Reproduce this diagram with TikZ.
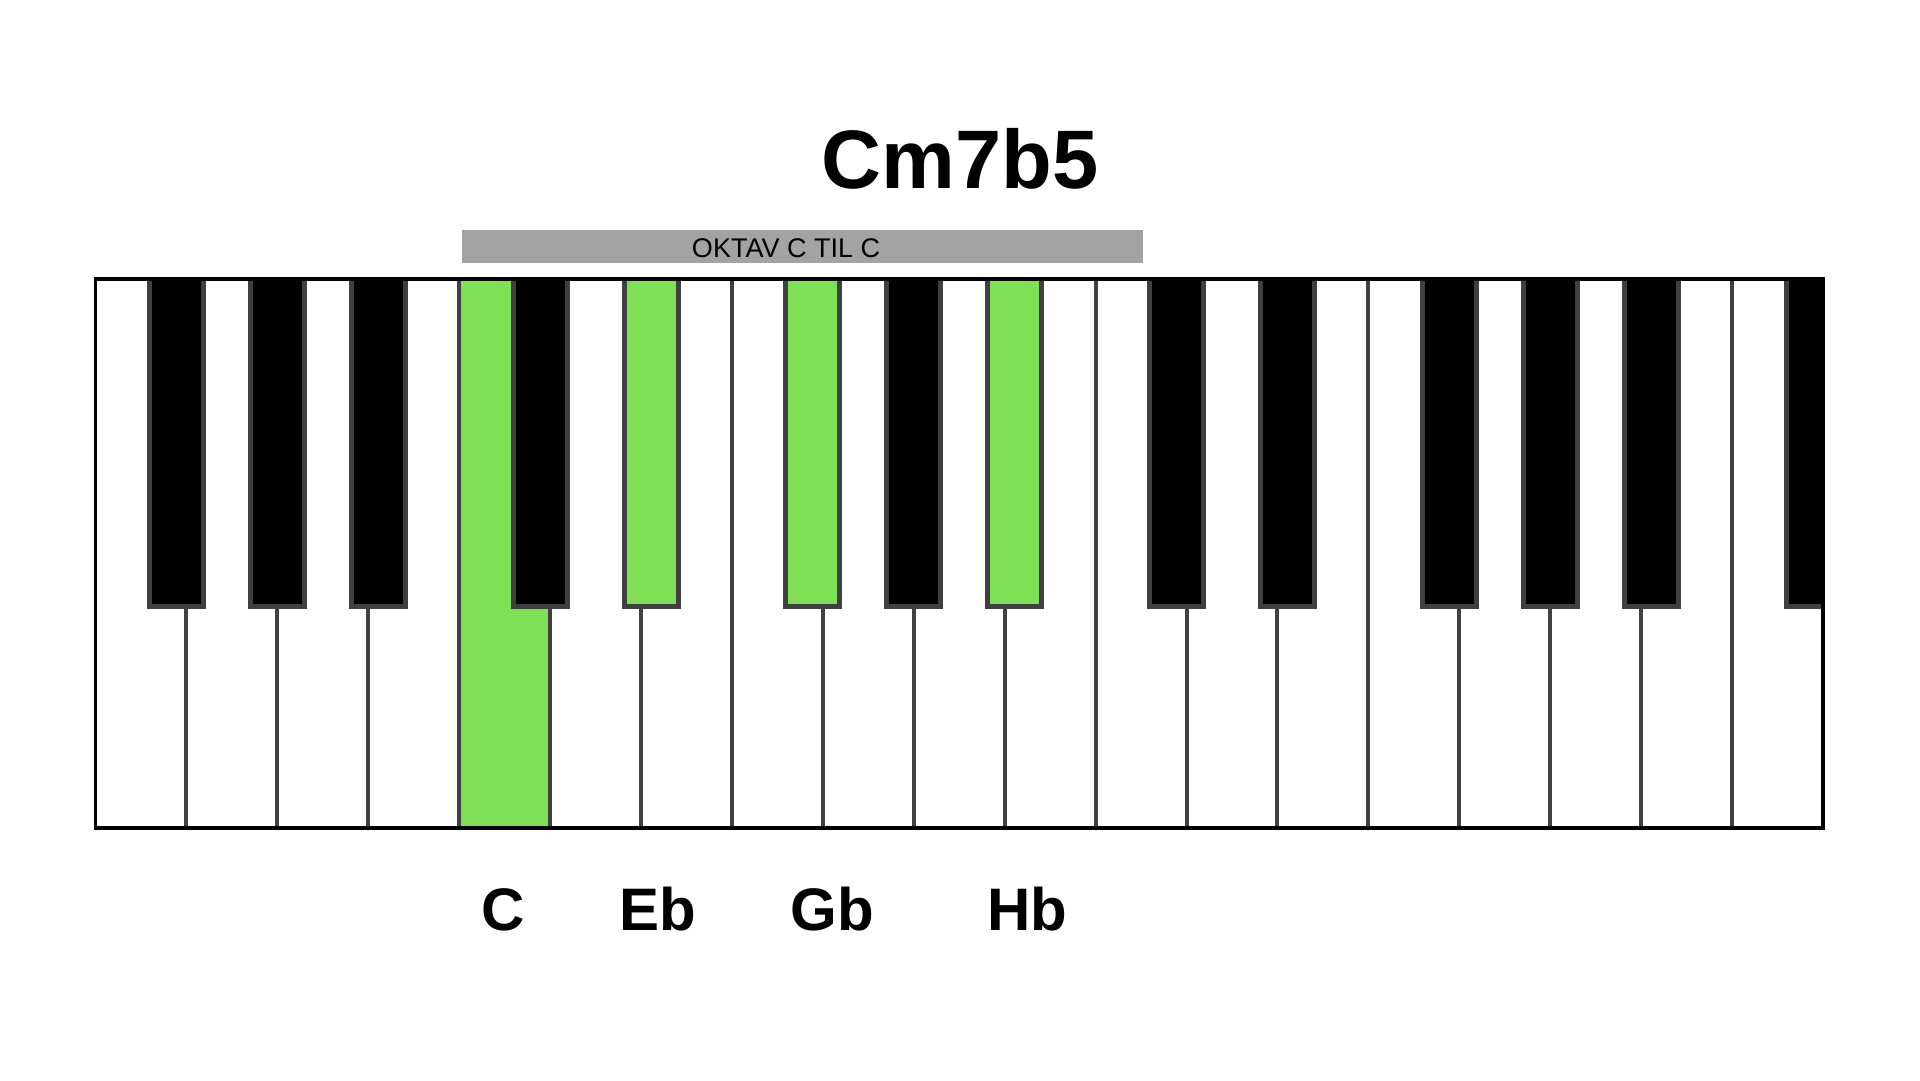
\documentclass[tikz,border=0pt]{standalone}
\usepackage{fontspec}
\setmainfont{Liberation Sans}
\definecolor{keygreen}{HTML}{7EE155}
\definecolor{keyedge}{HTML}{404040}
\definecolor{bargray}{HTML}{A3A3A3}
\def\keyleft{95.5}
\def\keyright{1823}
\def\keyw{90.92}
\def\keytop{279}
\def\keybot{828}
\def\blackbot{606.5}
\tikzset{
  blackkey/.style={fill=black, draw=keyedge, line width=5pt},
  greenkey/.style={fill=keygreen, draw=keyedge, line width=5pt},
  divider/.style={draw=keyedge, line width=4pt},
  notename/.style={font=\fontsize{60}{60}\selectfont\bfseries, anchor=base},
}

\begin{document}
\begin{tikzpicture}[x=1pt,y=-1pt]
  \useasboundingbox[fill=white] (0,0) rectangle (1920,1080);

  % Title
  \node[font=\fontsize{83}{83}\selectfont\bfseries, anchor=base] (title) at (960,188) {Cm7b5};

  % Octave bar
  \fill[bargray] (461.5,230) rectangle (1142.5,263);
  \node[font=\fontsize{27}{27}\selectfont, anchor=base] (octave) at (786,257) {OKTAV C TIL C};

  % Keys
  \begin{scope}
    \clip (\keyleft,\keytop) rectangle (\keyright,\keybot);
    % C
    \fill[keygreen] ({\keyleft+4*\keyw},\keytop) rectangle ({\keyleft+5*\keyw},\keybot);
    % White keys
    \foreach \i in {1,...,18}
      \draw[divider] ({\keyleft+\i*\keyw},\keytop) -- ({\keyleft+\i*\keyw},\keybot);
    % Black keys
    \foreach \i/\dx/\kind in {1/-10/blackkey, 2/0/blackkey, 3/10/blackkey,
                              5/-10/blackkey, 6/10/greenkey, 8/-10/greenkey, 9/0/blackkey, 10/10/greenkey,
                              12/-10/blackkey, 13/10/blackkey, 15/-10/blackkey, 16/0/blackkey, 17/10/blackkey,
                              19/-10/blackkey}
      \draw[\kind] ({\keyleft+\i*\keyw+(\dx)-27},{\keytop-5}) rectangle ({\keyleft+\i*\keyw+(\dx)+27},\blackbot);
  \end{scope}

  % Frame
  \draw[line width=3.5pt] (\keyleft,\keytop) rectangle (\keyright,\keybot);

  % Notes
  \node[notename] (c) at (503,930) {C};
  \node[notename] (eb) at (658,930) {Eb};
  \node[notename] (gb) at (832,930) {Gb};
  \node[notename] (hb) at (1027,930) {Hb};
\end{tikzpicture}
\end{document}
